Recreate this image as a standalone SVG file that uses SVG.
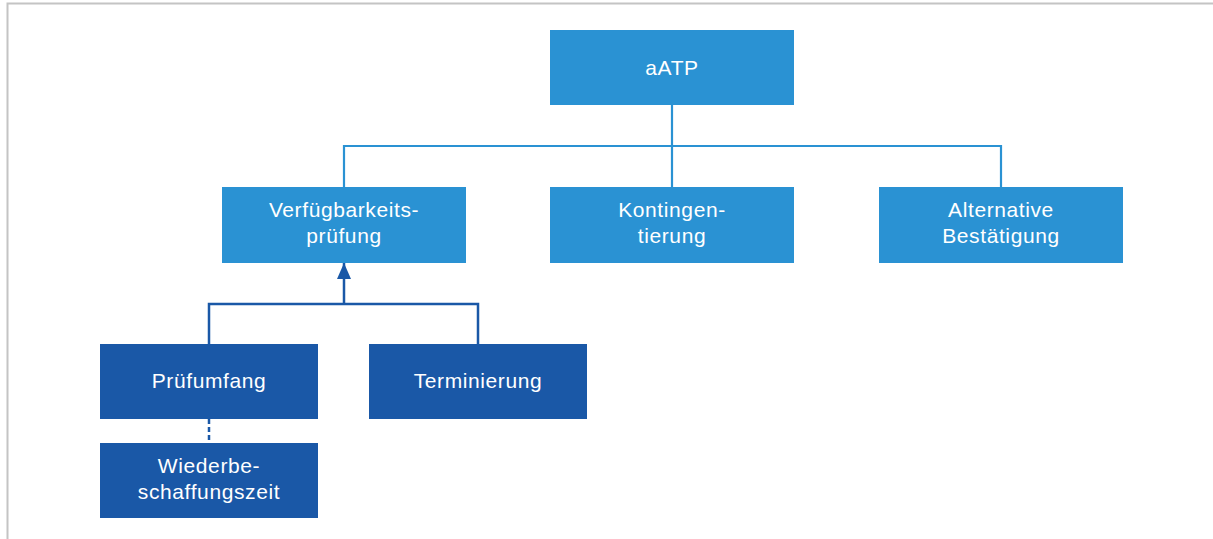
<svg xmlns="http://www.w3.org/2000/svg" width="1213" height="539" viewBox="0 0 1213 539">
<style>
.l1{fill:#2a92d3}
.l2{fill:#1a58a7}
.t{font-family:"Liberation Sans",Arial,sans-serif;font-size:21px;letter-spacing:0.6px;fill:#fff;text-anchor:middle}
.c1{stroke:#2a92d3;stroke-width:2.2;fill:none}
.c2{stroke:#1a58a7;stroke-width:2.5;fill:none}
</style>
<defs>
<marker id="ah" viewBox="0 0 16 14" refX="16" refY="7" markerWidth="16" markerHeight="14" markerUnits="userSpaceOnUse" orient="auto">
<path d="M0,0 L16,7 L0,14 Z" fill="#1a58a7"/>
</marker>
</defs>
<rect width="1213" height="539" fill="#fff"/>
<path d="M7.5,539 V3.5 H1213" stroke="#c4c4c4" stroke-width="2" fill="none"/>
<g id="connectors">
<path class="c1" d="M672,105 V146 M344,187 V146 H1001 V187 M672,146 V187"/>
<path class="c2" d="M209,344 V304 H478 V344"/>
<path class="c2" d="M344,304 V263" marker-end="url(#ah)"/>
<path d="M209,419 V443" stroke="#1a58a7" stroke-width="2.5" stroke-dasharray="5,3"/>
</g>
<g id="aATP"><rect class="l1" x="550" y="30" width="244" height="75"/><text class="t" x="672" y="75">aATP</text></g>
<g id="verfuegbarkeitspruefung"><rect class="l1" x="222" y="187" width="244" height="76"/><text class="t" x="344" y="217">Verfügbarkeits-</text><text class="t" x="344" y="243">prüfung</text></g>
<g id="kontingentierung"><rect class="l1" x="550" y="187" width="244" height="76"/><text class="t" x="672" y="217">Kontingen-</text><text class="t" x="672" y="243">tierung</text></g>
<g id="alternative"><rect class="l1" x="879" y="187" width="244" height="76"/><text class="t" x="1001" y="217">Alternative</text><text class="t" x="1001" y="243">Bestätigung</text></g>
<g id="pruefumfang"><rect class="l2" x="100" y="344" width="218" height="75"/><text class="t" x="209" y="388">Prüfumfang</text></g>
<g id="terminierung"><rect class="l2" x="369" y="344" width="218" height="75"/><text class="t" x="478" y="388">Terminierung</text></g>
<g id="wiederbeschaffungszeit"><rect class="l2" x="100" y="443" width="218" height="75"/><text class="t" x="209" y="473">Wiederbe-</text><text class="t" x="209" y="499">schaffungszeit</text></g>
</svg>
